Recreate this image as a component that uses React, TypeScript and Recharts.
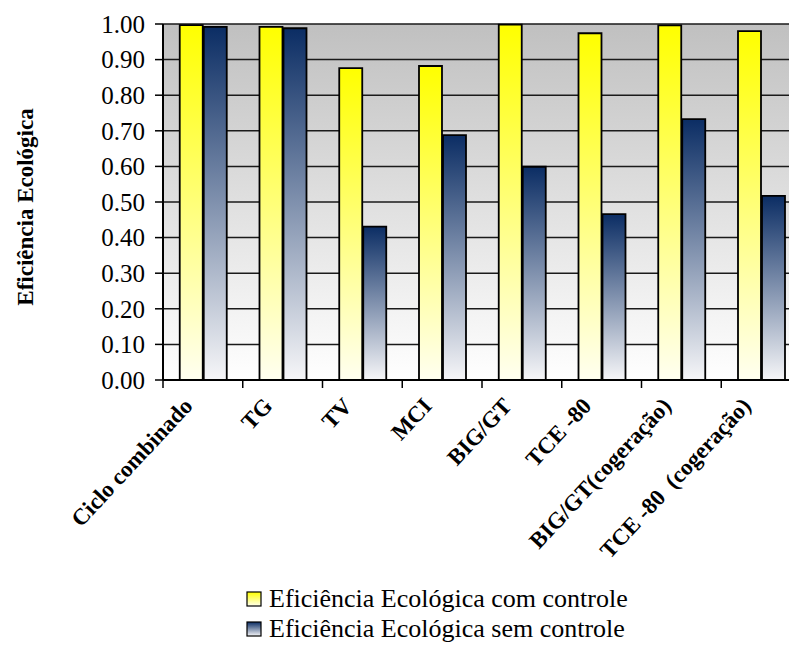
import { BarChart, Bar, XAxis, YAxis, CartesianGrid } from 'recharts';

const categories = [
  'Ciclo combinado',
  'TG',
  'TV',
  'MCI',
  'BIG/GT',
  'TCE -80',
  'BIG/GT(cogeração)',
  'TCE -80  (cogeração)',
];
const comControle = [0.997, 0.992, 0.876, 0.882, 0.998, 0.974, 0.996, 0.98];
const semControle = [0.992, 0.988, 0.431, 0.688, 0.599, 0.466, 0.733, 0.517];
const yTicks = [0, 0.1, 0.2, 0.3, 0.4, 0.5, 0.6, 0.7, 0.8, 0.9, 1.0];

const seriesCom = 'Eficiência Ecológica com controle';
const seriesSem = 'Eficiência Ecológica sem controle';

const data = categories.map((name, i) => ({
  name,
  com: comControle[i],
  sem: semControle[i],
}));

const FONT = '"Liberation Serif", "Times New Roman", serif';

function CategoryTick(props: any) {
  const { x, y, payload } = props;
  const half = payload.offset || 0;
  const ax = x - 9;
  const ay = y + 27;
  return (
    <g>
      <line x1={x - half} x2={x - half} y1={y} y2={y + 8} stroke="#000" strokeWidth={1.5} />
      <text
        x={ax}
        y={ay}
        textAnchor="end"
        transform={`rotate(-47, ${ax}, ${ay})`}
        style={{ fontFamily: FONT, fontWeight: 'bold', fontSize: 23, whiteSpace: 'pre' }}
        fill="#000"
      >
        {payload.value}
      </text>
    </g>
  );
}

function YTitle(props: any) {
  const vb = props.viewBox || { y: 24, height: 356 };
  const cy = vb.y + vb.height / 2 + 5;
  return (
    <text
      x={25}
      y={cy}
      transform={`rotate(-90, 25, ${cy})`}
      textAnchor="middle"
      dominantBaseline="central"
      style={{ fontFamily: FONT, fontWeight: 'bold', fontSize: 23 }}
      fill="#000"
    >
      Eficiência Ecológica
    </text>
  );
}

function LegendIcon({ id, top, bottom }: { id: string; top: string; bottom: string }) {
  return (
    <svg width={16} height={16} style={{ marginRight: 7, flex: 'none' }}>
      <defs>
        <linearGradient id={id} x1="0" y1="0" x2="0" y2="1">
          <stop offset="0%" stopColor={top} />
          <stop offset="100%" stopColor={bottom} />
        </linearGradient>
      </defs>
      <rect x={1} y={1} width={14} height={14} fill={`url(#${id})`} stroke="#000" strokeWidth={1.2} />
    </svg>
  );
}

export default function App() {
  return (
    <div
      style={{
        position: 'absolute',
        left: 0,
        top: 0,
        width: 789,
        height: 646,
        overflow: 'hidden',
        background: '#fff',
        fontFamily: FONT,
      }}
    >
      <BarChart
        width={820}
        height={646}
        data={data}
        margin={{ top: 24, right: 19, bottom: 0, left: 0 }}
        barCategoryGap="21%"
        barGap={1}
        style={{ fontFamily: FONT }}
      >
        <defs>
          <linearGradient id="bgGrad" x1="0" y1="0" x2="0" y2="1">
            <stop offset="0%" stopColor="#c0c0c0" />
            <stop offset="100%" stopColor="#ffffff" />
          </linearGradient>
          <linearGradient id="yellowGrad" x1="0" y1="0" x2="0" y2="1">
            <stop offset="0%" stopColor="#ffff00" />
            <stop offset="100%" stopColor="#fffff0" />
          </linearGradient>
          <linearGradient id="navyGrad" x1="0" y1="0" x2="0" y2="1">
            <stop offset="0%" stopColor="#0b2d64" />
            <stop offset="100%" stopColor="#f6f6f8" />
          </linearGradient>
        </defs>
        <CartesianGrid
          vertical={false}
          fill="url(#bgGrad)"
          stroke="#1a1a1a"
          strokeWidth={1.5}
        />
        <XAxis
          dataKey="name"
          interval={0}
          height={266}
          tickSize={0}
          tickMargin={0}
          tickLine={false}
          axisLine={{ stroke: '#000', strokeWidth: 2 }}
          tick={<CategoryTick />}
        />
        <YAxis
          width={163}
          domain={[0, 1]}
          ticks={yTicks}
          interval={0}
          tickSize={8}
          tickMargin={10}
          tickFormatter={(v: number) => v.toFixed(2)}
          tick={{ fill: '#000', fontSize: 25, style: { fontFamily: FONT } }}
          tickLine={{ stroke: '#000', strokeWidth: 1.5 }}
          axisLine={{ stroke: '#000', strokeWidth: 2 }}
          label={<YTitle />}
        />
        <Bar
          dataKey="com"
          name={seriesCom}
          fill="url(#yellowGrad)"
          stroke="#000"
          strokeWidth={1.8}
          isAnimationActive={false}
        />
        <Bar
          dataKey="sem"
          name={seriesSem}
          fill="url(#navyGrad)"
          stroke="#000"
          strokeWidth={1.8}
          isAnimationActive={false}
        />
      </BarChart>
      <div
        style={{
          position: 'absolute',
          left: 246,
          top: 584,
          fontSize: 26,
          lineHeight: '30px',
          color: '#000',
        }}
      >
        <div style={{ display: 'flex', alignItems: 'center' }}>
          <LegendIcon id="lgY" top="#ffff00" bottom="#fffff0" />
          <span>{seriesCom}</span>
        </div>
        <div style={{ display: 'flex', alignItems: 'center' }}>
          <LegendIcon id="lgN" top="#0b2d64" bottom="#f6f6f8" />
          <span>{seriesSem}</span>
        </div>
      </div>
    </div>
  );
}
